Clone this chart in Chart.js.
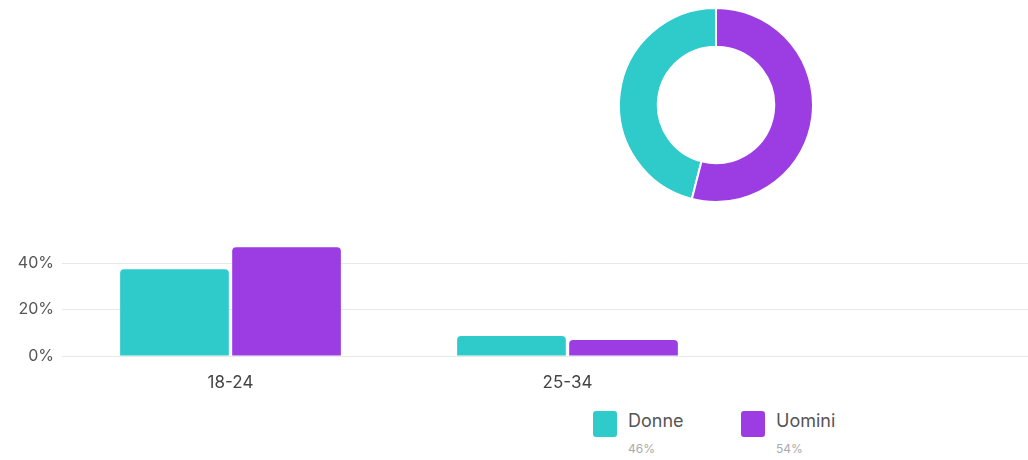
<!DOCTYPE html>
<html>
<head>
<meta charset="utf-8">
<script src="https://cdn.jsdelivr.net/npm/chart.js@4.4.1/dist/chart.umd.min.js"></script>
<style>
  body { margin: 0; width: 1028px; height: 460px; overflow: hidden; position: relative; background: #fff; font-family: Inter, Roboto, sans-serif; }
  #donutBox { position: absolute; left: 618px; top: 7px; width: 196px; height: 196px; }
  #barBox { position: absolute; left: 0; top: 227px; width: 1076px; height: 173px; }
  .legend-item { position: absolute; top: 410px; }
  .legend-item .swatch { position: absolute; left: 0; top: 1px; width: 24px; height: 26px; border-radius: 3px; }
  .legend-item .name { position: absolute; left: 35px; top: 0; font-size: 18px; color: #555; white-space: nowrap; }
  .legend-item .share { position: absolute; left: 35px; top: 31px; font-size: 12px; color: #aaa; white-space: nowrap; }
</style>
</head>
<body>
<div id="donutBox"><canvas id="donutChart"></canvas></div>
<div id="barBox"><canvas id="ageChart"></canvas></div>
<div id="legend"></div>

<script>
// data
const genders = ['Donne', 'Uomini'];
const genderShare = [46, 54];
const genderColors = ['#2fcbcb', '#9b3de2'];

const ageGroups = ['18-24', '25-34'];
const donneByAge = [37.4, 8.6];
const uominiByAge = [46.9, 6.9];
const yTicks = [0, 20, 40];

// legend below the bars (html)
function buildLegend() {
  const legend = document.getElementById('legend');
  const lefts = [593, 741];
  genders.forEach((name, i) => {
    const item = document.createElement('div');
    item.className = 'legend-item';
    item.style.left = lefts[i] + 'px';
    item.innerHTML =
      '<div class="swatch" style="background:' + genderColors[i] + '"></div>' +
      '<div class="name">' + name + '</div>' +
      '<div class="share">' + genderShare[i] + '%</div>';
    legend.appendChild(item);
  });
}

// doughnut chart, Donne on the left, Uomini on the right
function createDonut() {
  const ctx = document.getElementById('donutChart').getContext('2d');
  new Chart(ctx, {
    type: 'doughnut',
    data: {
      labels: genders,
      datasets: [{
        data: genderShare,
        backgroundColor: genderColors,
        borderColor: '#fff',
        borderWidth: 2,
        hoverOffset: 0
      }]
    },
    options: {
      responsive: true,
      maintainAspectRatio: false,
      animation: false,
      cutout: '60%',
      rotation: -genderShare[0] * 3.6,
      plugins: {
        legend: { display: false },
        tooltip: { enabled: false }
      }
    }
  });
}

// grouped bar chart by age
function createBars() {
  const ctx = document.getElementById('ageChart').getContext('2d');
  new Chart(ctx, {
    type: 'bar',
    data: {
      // one empty slot on the right, as in the reference
      labels: [...ageGroups, ''],
      datasets: [
        {
          label: genders[0],
          data: donneByAge,
          backgroundColor: genderColors[0],
          borderRadius: 4,
          categoryPercentage: 0.665,
          barPercentage: 0.97
        },
        {
          label: genders[1],
          data: uominiByAge,
          backgroundColor: genderColors[1],
          borderRadius: 4,
          categoryPercentage: 0.665,
          barPercentage: 0.97
        }
      ]
    },
    options: {
      responsive: true,
      maintainAspectRatio: false,
      animation: false,
      layout: { padding: { top: 0, right: 3, left: 0, bottom: 0 } },
      plugins: {
        legend: { display: false },
        tooltip: { enabled: false }
      },
      scales: {
        x: {
          grid: { display: false },
          border: { display: false },
          ticks: {
            color: '#444',
            padding: 9,
            font: { family: 'Inter', size: 17 }
          },
          afterFit: (scale) => { scale.height = 44; }
        },
        y: {
          min: 0,
          max: 48,
          grid: { color: '#e8e8e8', drawTicks: false },
          border: { display: false },
          afterBuildTicks: (scale) => { scale.ticks = yTicks.map(v => ({ value: v })); },
          ticks: {
            color: '#555',
            padding: 8,
            font: { family: 'Inter', size: 16 },
            callback: function (value) {
              return value + '%';
            }
          },
          afterFit: (scale) => { scale.width = 62; }
        }
      }
    }
  });
}

buildLegend();
createDonut();
createBars();
</script>
</body>
</html>
